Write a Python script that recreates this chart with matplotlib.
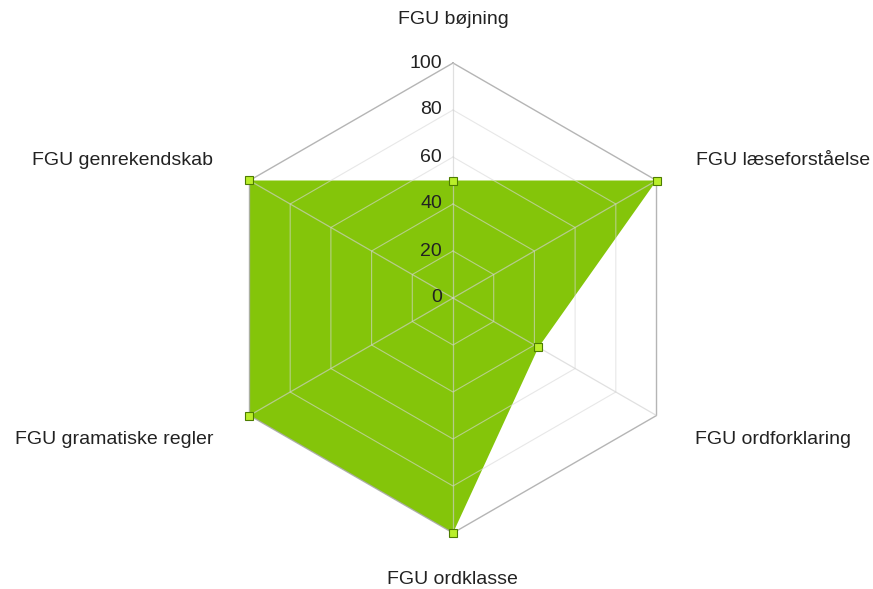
import numpy as np
import matplotlib
matplotlib.use("Agg")
import matplotlib.pyplot as plt

categories = ["FGU bøjning", "FGU læseforståelse", "FGU ordforklaring",
              "FGU ordklasse", "FGU gramatiske regler", "FGU genrekendskab"]
values = [50, 100, 42, 100, 100, 100]
ticks = [0, 20, 40, 60, 80, 100]

plt.rcParams['font.family'] = ['Liberation Sans', 'DejaVu Sans']

n = len(categories)
angles = np.arange(n) * 2 * np.pi / n
closed_a = np.append(angles, angles[0])
closed_v = np.append(values, values[0])

fig = plt.figure(figsize=(8.73, 5.89), dpi=100)
cx, cy, rad = 453 / 873, (589 - 298) / 589, 235
ax = fig.add_axes([cx - rad / 873, cy - rad / 589, 2 * rad / 873, 2 * rad / 589],
                  projection='polar')
ax.set_theta_zero_location('N')
ax.set_theta_direction(-1)
ax.set_ylim(0, 100)
ax.grid(False)
ax.spines['polar'].set_visible(False)
ax.set_xticks([])
ax.set_yticks([])
ax.patch.set_alpha(0)

# filled series
ax.fill(closed_a, closed_v, color='#84c50a', zorder=2, lw=0, clip_on=False)

# hexagon grid on top
for t in ticks[1:]:
    if t == 100:
        ax.plot(closed_a, [t] * (n + 1), color='#a8a8a8', lw=1.0, zorder=3,
                alpha=0.85, clip_on=False)
    else:
        ax.plot(closed_a, [t] * (n + 1), color='#d8d8d8', lw=0.8, zorder=3,
                alpha=0.6, clip_on=False)
for a in angles:
    ax.plot([a, a], [0, 100], color='#d0d0d0', lw=0.9, zorder=3, alpha=0.65)

# markers
ax.plot(angles, values, ls='none', marker='s', ms=6, mfc='#b9ee2a', mec='#4d7d00',
        mew=0.8, zorder=4, clip_on=False)

# radial tick labels
for t in ticks:
    ax.annotate(str(t), xy=(0, t), xytext=(-11, 0), textcoords='offset pixels',
                ha='right', va='center', fontsize=14, color='#222222', zorder=5)

# category labels
offsets = [(0, 43, 'center'), (39, 20, 'left'), (38, -24, 'left'),
           (-1, -46, 'center'), (-36, -24, 'right'), (-36, 20, 'right')]
for a, lab, (dx, dy, ha) in zip(angles, categories, offsets):
    ax.annotate(lab, xy=(a, 100), xytext=(dx, dy), textcoords='offset pixels',
                ha=ha, va='center', fontsize=14, color='#222222',
                annotation_clip=False)

fig.savefig("out.png", dpi=100)
